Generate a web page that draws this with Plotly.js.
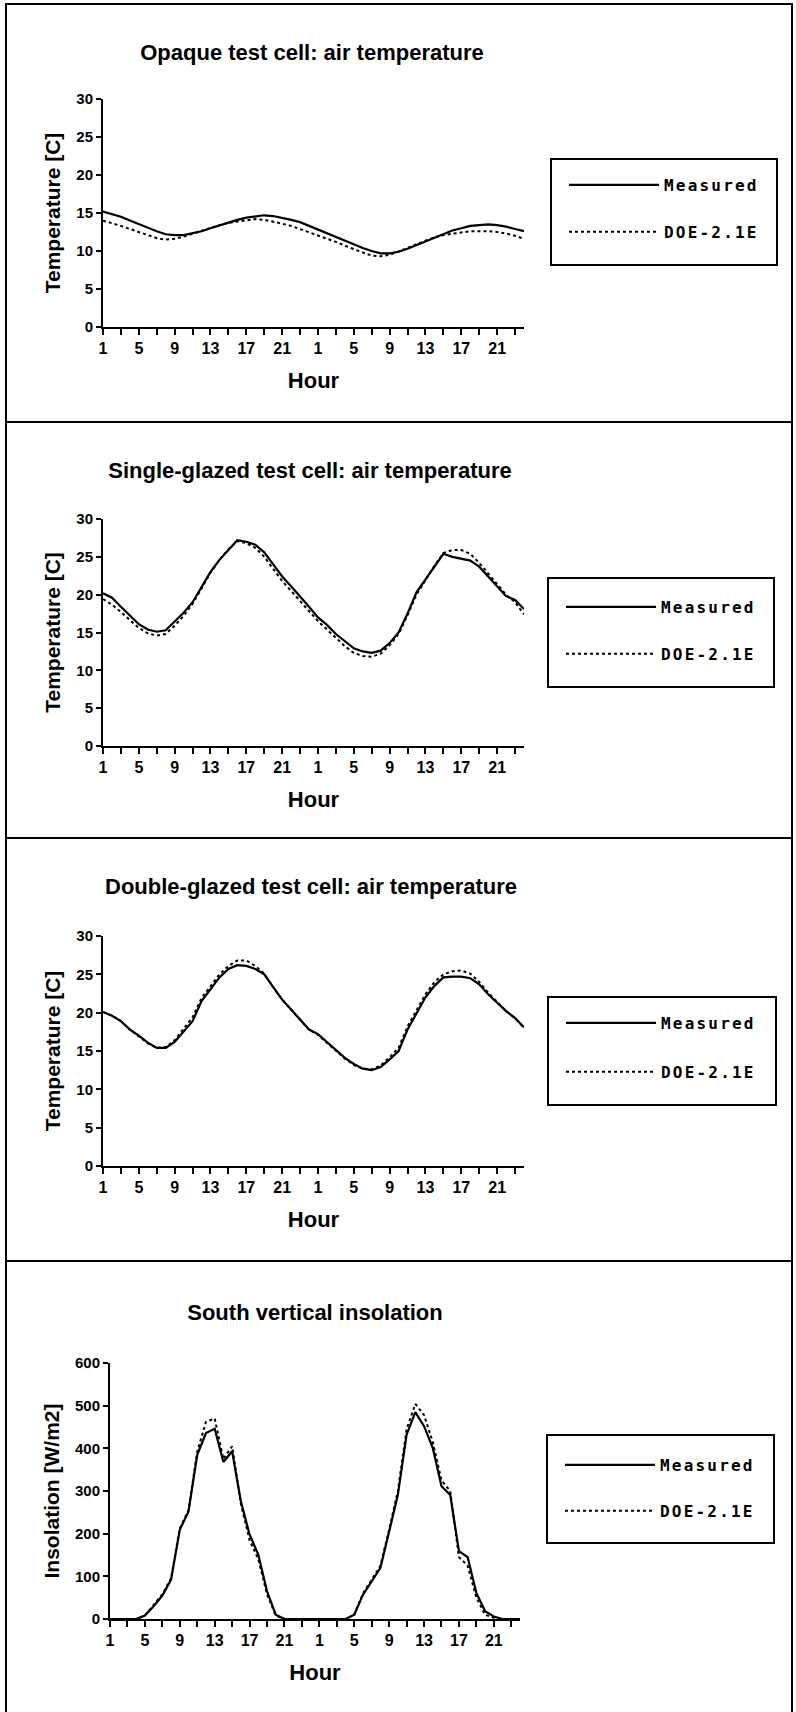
<!DOCTYPE html>
<html>
<head>
<meta charset="utf-8">
<script src="https://cdn.plot.ly/plotly-3.0.1.min.js"></script>
<style>
html,body{margin:0;padding:0;background:#fff;}
#page{position:relative;width:796px;height:1712px;overflow:hidden;background:#fff;}
.panel{position:absolute;left:0;width:796px;}
.frame{position:absolute;background:#000;z-index:10;pointer-events:none;}
.legendtext{letter-spacing:2.2px;}
</style>
</head>
<body>
<div id="page">
  <div id="p1" class="panel" style="top:4px;height:418px"></div>
  <div id="p2" class="panel" style="top:422px;height:416px"></div>
  <div id="p3" class="panel" style="top:838px;height:423px"></div>
  <div id="p4" class="panel" style="top:1261px;height:451px"></div>
  <div class="frame" style="left:5px;top:3px;width:788px;height:2px"></div>
  <div class="frame" style="left:5px;top:3px;width:2px;height:1709px"></div>
  <div class="frame" style="left:791px;top:3px;width:2px;height:1709px"></div>
  <div class="frame" style="left:5px;top:421px;width:788px;height:2px"></div>
  <div class="frame" style="left:5px;top:837px;width:788px;height:2px"></div>
  <div class="frame" style="left:5px;top:1260px;width:788px;height:2px"></div>
</div>
<script>
// ---------- data ----------
const hourOfDay = [1,2,3,4,5,6,7,8,9,10,11,12,13,14,15,16,17,18,19,20,21,22,23,24,
                   1,2,3,4,5,6,7,8,9,10,11,12,13,14,15,16,17,18,19,20,21,22,23,24];
const tickLabels = ['1','5','9','13','17','21','1','5','9','13','17','21'];
const seriesNames = ['Measured', 'DOE-2.1E'];
const panelTitles = ['Opaque test cell: air temperature',
                     'Single-glazed test cell: air temperature',
                     'Double-glazed test cell: air temperature',
                     'South vertical insolation'];
const yTitles = ['Temperature [C]', 'Temperature [C]', 'Temperature [C]', 'Insolation [W/m2]'];

const opaqueMeasured = [15.2,14.9,14.5,14.0,13.5,13.0,12.6,12.2,12.1,12.1,12.3,12.6,13.0,13.4,13.8,14.1,14.4,14.6,14.7,14.6,14.4,14.1,13.8,13.3,
                        12.8,12.4,11.9,11.4,10.9,10.4,10.0,9.7,9.7,9.9,10.3,10.8,11.3,11.8,12.3,12.7,13.0,13.3,13.4,13.5,13.4,13.2,12.9,12.6];
const opaqueDOE      = [14.0,13.7,13.3,12.9,12.5,12.1,11.7,11.5,11.6,11.9,12.3,12.7,13.1,13.4,13.7,13.9,14.1,14.2,14.1,13.9,13.6,13.3,12.9,12.4,
                        12.0,11.6,11.2,10.7,10.2,9.8,9.4,9.3,9.5,9.9,10.4,10.9,11.4,11.8,12.1,12.3,12.5,12.6,12.6,12.6,12.5,12.3,12.0,11.6];

const singleMeasured = [20.2,19.6,18.4,17.2,16.1,15.4,15.1,15.3,16.5,17.6,19.0,21.0,23.0,24.6,25.9,27.2,27.0,26.6,25.6,24.0,22.4,21.1,19.8,18.4,
                        17.0,16.0,14.8,13.8,12.9,12.5,12.3,12.6,13.6,15.0,17.5,20.3,22.0,23.8,25.4,25.0,24.8,24.5,23.7,22.4,21.1,19.8,19.3,18.1];
const singleDOE      = [19.4,18.7,17.7,16.6,15.6,14.9,14.6,14.8,15.9,17.2,18.8,20.8,22.9,24.6,26.0,27.1,26.8,26.2,25.0,23.4,21.8,20.5,19.2,17.9,
                        16.5,15.4,14.3,13.2,12.3,11.9,11.8,12.2,13.3,14.8,17.3,20.0,21.9,23.8,25.5,25.9,25.9,25.4,24.2,22.8,21.4,20.0,19.0,17.4];

const doubleMeasured = [20.1,19.6,18.9,17.8,17.0,16.1,15.4,15.4,16.2,17.6,18.9,21.5,23.0,24.6,25.7,26.2,26.1,25.7,25.0,23.3,21.7,20.4,19.1,17.8,
                        17.2,16.2,15.2,14.1,13.3,12.7,12.5,12.9,13.9,15.0,17.8,20.0,22.0,23.5,24.6,24.7,24.7,24.5,23.7,22.4,21.3,20.2,19.3,18.1];
const doubleDOE      = [20.1,19.6,18.9,17.8,16.9,16.0,15.4,15.5,16.4,17.9,19.4,21.9,23.5,25.0,26.1,26.8,26.8,26.1,25.1,23.3,21.7,20.4,19.1,17.8,
                        17.1,16.1,15.1,14.0,13.2,12.7,12.6,13.1,14.2,15.4,18.2,20.4,22.4,24.0,25.0,25.4,25.5,25.1,24.0,22.6,21.4,20.2,19.3,18.0];

const insolMeasured  = [0,0,0,0,8,30,55,92,209,252,385,436,446,368,393,276,198,151,65,10,0,0,0,0,
                        0,0,0,0,10,57,88,120,205,291,432,485,452,401,311,291,159,145,61,18,6,0,0,0];
const insolDOE       = [0,0,0,0,8,32,58,95,212,255,392,462,470,375,405,270,185,140,58,8,0,0,0,0,
                        0,0,0,0,10,60,92,125,210,300,445,504,478,415,325,300,145,125,50,10,3,0,0,0];

// ---------- drawing ----------
const W = 796;
function makePanel(cfg) {
  const H = cfg.H, m = cfg.m;
  const pw = W - m.l - m.r, ph = H - m.t - m.b;
  const px = x => (x - m.l) / pw;
  const py = y => (H - m.b - y) / ph;
  const xIdx = hourOfDay.map((h, i) => i);
  const tickvals = [], ticktext = [];
  for (let i = 0; i < hourOfDay.length - 1; i += 2) {
    tickvals.push(i);
    ticktext.push(i % 4 === 0 ? tickLabels[i / 4] : '');
  }
  const xr = [0, hourOfDay.length - 1];
  const traces = [
    {x: xIdx, y: cfg.meas, type: 'scatter', mode: 'lines', name: seriesNames[0],
     legendgroup: 'a', line: {color: '#000', width: 2.2}},
    {x: xIdx, y: cfg.doe, type: 'scatter', mode: 'lines', name: seriesNames[1],
     legendgroup: 'b', line: {color: '#000', width: 2, dash: 'dot'}}
  ];
  const tickFont = {family: 'Liberation Sans Narrow, Liberation Sans, Arial, sans-serif', size: 16, color: '#000', weight: 'bold'};
  const yticks = [];
  for (let v = cfg.yr[0]; v <= cfg.yr[1]; v += cfg.dtick) yticks.push(v);
  const layout = {
    width: W, height: H,
    margin: {l: m.l, r: m.r, t: m.t, b: m.b, pad: 0},
    paper_bgcolor: 'rgba(0,0,0,0)', plot_bgcolor: 'rgba(0,0,0,0)',
    showlegend: true,
    title: {text: cfg.title, xref: 'container', yref: 'container',
            x: cfg.titleX / W, xanchor: 'center', y: 1 - cfg.titleY / H, yanchor: 'middle',
            font: {family: 'Liberation Sans, Arial, sans-serif', size: 22, color: '#000', weight: 'bold'}},
    xaxis: {range: xr, tickmode: 'array', tickvals: tickvals, ticktext: ticktext,
            ticks: 'outside', ticklen: 6, tickwidth: 2, tickcolor: '#000',
            showline: true, linewidth: 2, linecolor: '#000', showgrid: false, zeroline: false,
            tickfont: tickFont, fixedrange: true,
            title: {text: 'Hour', standoff: 16,
                    font: {family: 'Liberation Sans, Arial, sans-serif', size: 22, color: '#000', weight: 'bold'}}},
    xaxis2: {overlaying: 'x', anchor: 'y', side: 'bottom', range: xr,
             tickmode: 'array', tickvals: tickvals, ticks: 'inside', ticklen: 6, tickwidth: 2,
             tickcolor: '#000', showticklabels: false, showline: false, showgrid: false, zeroline: false},
    yaxis: {range: cfg.yr, tickmode: 'array', tickvals: yticks,
            ticks: 'outside', ticklen: 5, tickwidth: 2, tickcolor: '#000',
            showline: true, linewidth: 2, linecolor: '#000', showgrid: false, zeroline: false,
            tickfont: {family: 'Liberation Sans Narrow, Liberation Sans, Arial, sans-serif', size: 15, color: '#000', weight: 'bold'},
            fixedrange: true,
            title: {text: cfg.ytitle, standoff: 10,
                    font: {family: 'Liberation Sans, Arial, sans-serif', size: 21, color: '#000', weight: 'bold'}}},
    yaxis2: {overlaying: 'y', anchor: 'x', side: 'left', range: cfg.yr, tickmode: 'array', tickvals: yticks,
             ticks: 'inside', ticklen: 4, tickwidth: 2, tickcolor: '#000',
             showticklabels: false, showline: false, showgrid: false, zeroline: false},
    legend: {x: px(cfg.legX), xanchor: 'left', y: py(cfg.legY), yanchor: 'top',
             itemwidth: 90, tracegroupgap: cfg.gap, traceorder: 'grouped',
             bgcolor: 'rgba(0,0,0,0)', borderwidth: 0,
             font: {family: 'DejaVu Sans Mono, Liberation Mono, monospace', size: 16, color: '#000', weight: 'bold'}},
    shapes: [{type: 'rect', xref: 'paper', yref: 'paper',
              x0: px(cfg.box[0]), x1: px(cfg.box[2]), y0: py(cfg.box[3]), y1: py(cfg.box[1]),
              line: {color: '#000', width: 2}, fillcolor: 'rgba(0,0,0,0)'}]
  };
  Plotly.newPlot(cfg.id, traces, layout, {staticPlot: true, displayModeBar: false});
}

makePanel({id: 'p1', H: 418, m: {l: 103, r: 272, t: 95, b: 95}, title: panelTitles[0], titleX: 312, titleY: 48,
           ytitle: yTitles[0], yr: [0, 30], dtick: 5, meas: opaqueMeasured, doe: opaqueDOE,
           box: [551, 155, 777, 261], legX: 564, legY: 164, gap: 23});
makePanel({id: 'p2', H: 416, m: {l: 103, r: 272, t: 97, b: 92}, title: panelTitles[1], titleX: 310, titleY: 48,
           ytitle: yTitles[1], yr: [0, 30], dtick: 5, meas: singleMeasured, doe: singleDOE,
           box: [548, 156, 774, 265], legX: 561, legY: 168, gap: 23});
makePanel({id: 'p3', H: 423, m: {l: 103, r: 272, t: 98, b: 95}, title: panelTitles[2], titleX: 311, titleY: 48,
           ytitle: yTitles[2], yr: [0, 30], dtick: 5, meas: doubleMeasured, doe: doubleDOE,
           box: [548, 159, 776, 267], legX: 561, legY: 168, gap: 25});
makePanel({id: 'p4', H: 451, m: {l: 110, r: 276, t: 102, b: 93}, title: panelTitles[3], titleX: 315, titleY: 51,
           ytitle: yTitles[3], yr: [0, 600], dtick: 100, meas: insolMeasured, doe: insolDOE,
           box: [547, 174, 774, 282], legX: 560, legY: 187, gap: 22});
</script>
</body>
</html>
